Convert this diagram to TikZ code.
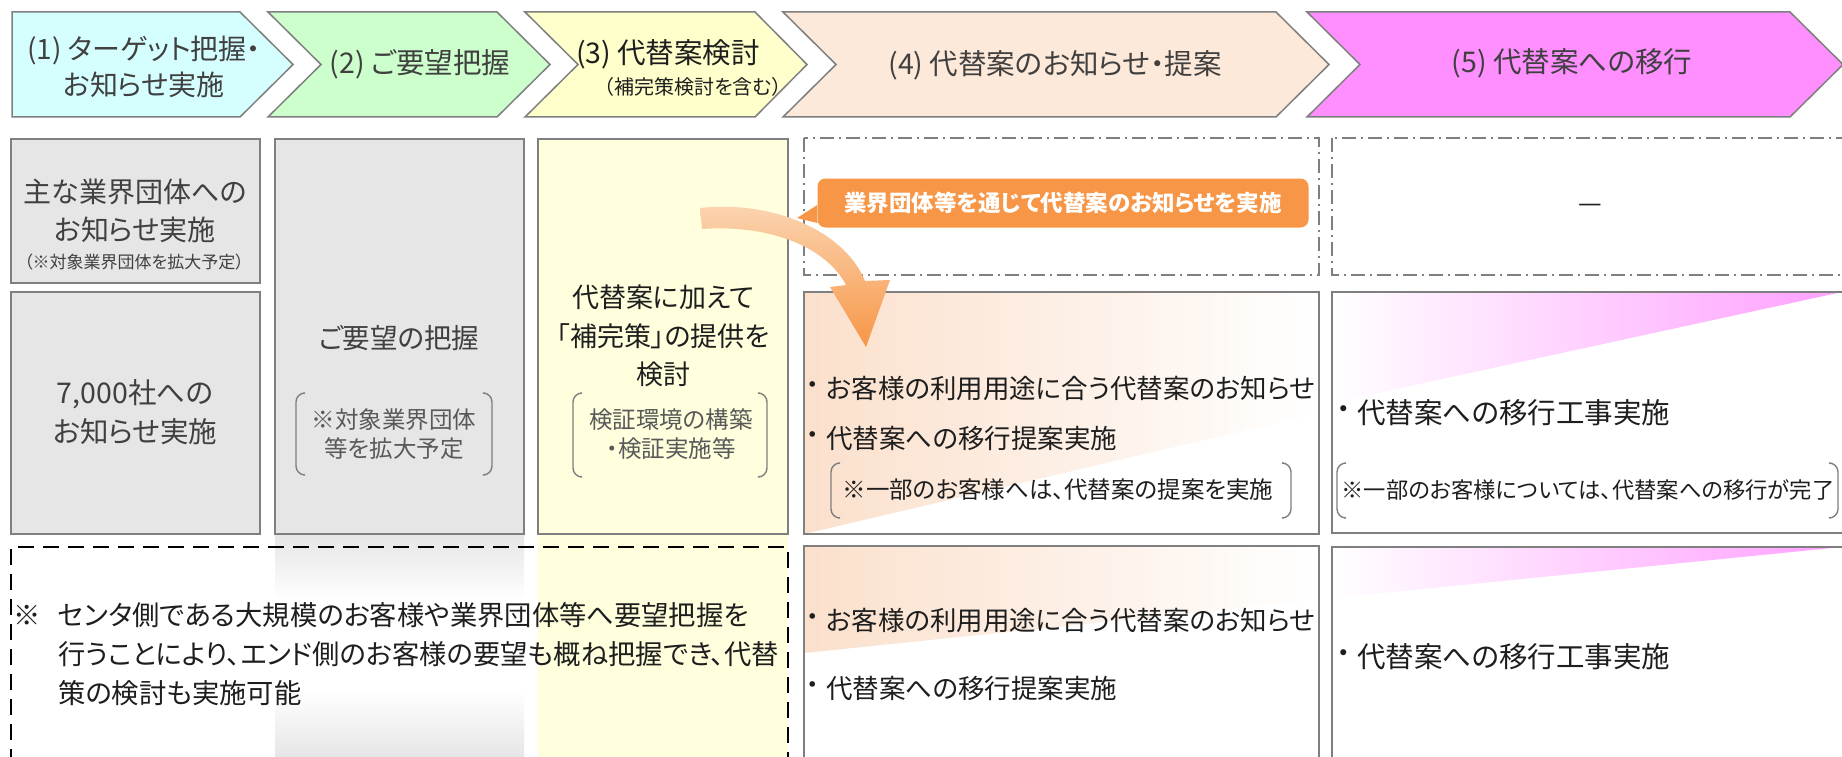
\documentclass[tikz,border=0pt]{standalone}
\usepackage{fontspec}
\setmainfont{Noto Sans CJK JP}[RawFeature=+palt]
\usetikzlibrary{calc}
\definecolor{bord}{HTML}{7F7F7F}
\definecolor{cA}{HTML}{D5FFFF}
\definecolor{cB}{HTML}{CCFFCC}
\definecolor{cC}{HTML}{FFFFCC}
\definecolor{cD}{HTML}{FDE9D9}
\definecolor{cE}{HTML}{FF8FFF}
\definecolor{gbox}{HTML}{E6E6E6}
\definecolor{ybox}{HTML}{FFFFDD}
\definecolor{orng}{HTML}{F79646}
\definecolor{arpale}{HTML}{FBD6B4}
\definecolor{peach}{HTML}{FBE0CC}
\definecolor{pinkg}{HTML}{FFA0FF}
\definecolor{txt}{HTML}{1E1E1E}
\definecolor{htxt}{HTML}{404040}
\definecolor{gtxt}{HTML}{404040}
\definecolor{ntxt}{HTML}{595959}
\newcommand\bul{\makebox[8pt]{・}}
\tikzset{
  chev/.style={draw=bord, line width=1.5pt},
  gbx/.style={draw=bord, line width=1.6pt, fill=gbox},
  ybx/.style={draw=bord, line width=1.6pt, fill=ybox},
  wbx/.style={draw=bord, line width=1.6pt},
  ddbx/.style={draw=bord, line width=1.5pt, dash pattern=on 14pt off 5pt on 2pt off 5pt},
  brk/.style={draw=bord, line width=1.4pt, rounded corners=9pt},
  htx/.style={inner sep=0pt, text=htxt, font=\fontsize{28.5}{36}\selectfont, align=center},
  gtx/.style={inner sep=0pt, text=gtxt, font=\fontsize{28}{38}\selectfont, align=center},
  ntx/.style={inner sep=0pt, text=ntxt, font=\fontsize{23.5}{29}\selectfont, align=center},
  btx/.style={inner sep=0pt, text=txt, font=\fontsize{26.5}{38}\selectfont},
  bbtx/.style={inner sep=0pt, text=txt, font=\fontsize{28.5}{38}\selectfont},
  smtx/.style={inner sep=0pt, text=txt, font=\fontsize{23.5}{28}\selectfont},
}
\begin{document}
\begin{tikzpicture}[x=1pt,y=-1pt]
\useasboundingbox (0,0) rectangle (1842,757);
\clip (0,0) rectangle (1842,757);
\fill[white] (0,0) rectangle (1842,757);

% header chevrons
\draw[chev, fill=cA] (12,12) -- (240,12) -- (293,64.5) -- (240,117) -- (12,117) -- cycle;
\draw[chev, fill=cB] (268,12) -- (497,12) -- (550,64.5) -- (497,117) -- (268,117) -- (321,64.5) -- cycle;
\draw[chev, fill=cC] (525,12) -- (755,12) -- (807,64.5) -- (755,117) -- (525,117) -- (578,64.5) -- cycle;
\draw[chev, fill=cD] (783,12) -- (1276,12) -- (1329,64.5) -- (1276,117) -- (783,117) -- (836,64.5) -- cycle;
\draw[chev, fill=cE] (1307,12) -- (1790,12) -- (1843,64.5) -- (1790,117) -- (1307,117) -- (1360,64.5) -- cycle;

\node[htx, font=\fontsize{28}{36}\selectfont] (h1) at (144,67) {(1) ターゲット把握・\\お知らせ実施};
\node[htx] (h2) at (420,64) {(2) ご要望把握};
\node[htx, text=txt] (h3) at (668,54) {(3) 代替案検討};
\node[inner sep=0pt, text=txt, font=\fontsize{20}{22}\selectfont] (h3s) at (693,87) {（補完策検討を含む）};
\node[htx] (h4) at (1055,65) {(4) 代替案のお知らせ・提案};
\node[htx] (h5) at (1572,63) {(5) 代替案への移行};

% column strips below boxes
\shade[top color=gbox, bottom color=white] (275,535) rectangle (524,600);
\shade[top color=white, bottom color=gbox] (275,690) rectangle (524,757);
\fill[ybox] (538,535) rectangle (788,757);

% column 1-3 boxes
\draw[gbx] (11,139) rectangle (260,283);
\draw[gbx] (11,292) rectangle (260,534);
\draw[gbx] (275,139) rectangle (524,534);
\draw[ybx] (538,139) rectangle (788,534);

% column 4-5 boxes
\draw[ddbx] (804,138) rectangle (1319,275);
\draw[ddbx] (1332,138) rectangle (1870,275);
\shade[left color=peach, right color=white] (804,292) -- (1319,292) -- (1319,413) -- (804,534) -- cycle;
\draw[wbx] (804,292) rectangle (1319,534);
\shade[left color=peach, right color=white] (804,546) -- (1319,546) -- (1319,600) -- (804,653) -- cycle;
\draw[wbx] (804,546) rectangle (1319,790);
\shade[left color=white, right color=pinkg] (1332,292) -- (1842,292) -- (1332,403) -- cycle;
\draw[wbx] (1332,292) rectangle (1870,533);
\shade[left color=white, right color=pinkg] (1332,547) -- (1842,547) -- (1332,598) -- cycle;
\draw[wbx] (1332,547) rectangle (1870,790);

% bottom-left dashed note box
\draw[black, line width=2.2pt, dash pattern=on 16pt off 9pt] (11,790) -- (11,547) -- (788,547) -- (788,790);

% brackets
\draw[brk] (303,393) -- (296,393) -- (296,475) -- (303,475);
\draw[brk] (485,393) -- (492,393) -- (492,475) -- (485,475);
\draw[brk] (580,393) -- (573,393) -- (573,477) -- (580,477);
\draw[brk] (760,393) -- (767,393) -- (767,477) -- (760,477);
\draw[brk] (838,463) -- (831,463) -- (831,518) -- (838,518);
\draw[brk] (1284,463) -- (1291,463) -- (1291,518) -- (1284,518);
\draw[brk] (1344,463) -- (1337,463) -- (1337,518) -- (1344,518);
\draw[brk] (1831,463) -- (1838,463) -- (1838,518) -- (1831,518);

% column texts
\node[gtx] (a1) at (135,211) {主な業界団体への\\お知らせ実施};
\node[gtx, font=\fontsize{17}{20}\selectfont] (a2) at (134,262) {（※対象業界団体を拡大予定）};
\node[gtx, font=\fontsize{28.5}{39}\selectfont] (b1) at (135,412) {7,000社への\\お知らせ実施};
\node[gtx, font=\fontsize{27.5}{38}\selectfont] (c2) at (399,338) {ご要望の把握};
\node[ntx] (c2n) at (394,434) {※対象業界団体\\等を拡大予定};
\node[gtx, text=txt, font=\fontsize{27}{38.5}\selectfont] (c3) at (663,336) {代替案に加えて\\「補完策」の提供を\\検討};
\node[ntx] (c3n) at (671,434) {検証環境の構築\\・検証実施等};

\node[btx] (d1b) at (813,388) {\bul};
\node[btx, anchor=west] (d1) at (826,388) {お客様の利用用途に合う代替案のお知らせ};
\node[btx] (d2b) at (813,438) {\bul};
\node[btx, anchor=west] (d2) at (826,438) {代替案への移行提案実施};
\node[smtx] (d3) at (1058,490) {※一部のお客様へは、代替案の提案を実施};
\node[btx] (d4b) at (813,620) {\bul};
\node[btx, anchor=west] (d4) at (826,620) {お客様の利用用途に合う代替案のお知らせ};
\node[btx] (d5b) at (813,688) {\bul};
\node[btx, anchor=west] (d5) at (826,688) {代替案への移行提案実施};

\node[btx] (dash) at (1590,208) {—};
\node[bbtx] (e1b) at (1344,413) {\bul};
\node[bbtx, anchor=west] (e1) at (1357,413) {代替案への移行工事実施};
\node[smtx, font=\fontsize{22.3}{28}\selectfont] (e2) at (1588,490) {※一部のお客様については、代替案への移行が完了};
\node[bbtx] (e3b) at (1344,657) {\bul};
\node[bbtx, anchor=west] (e3) at (1357,657) {代替案への移行工事実施};

% note text
\node[btx, font=\fontsize{27.3}{39}\selectfont] (fm) at (27,615) {※};
\node[btx, anchor=west, align=left, font=\fontsize{27.3}{39}\selectfont] (ft) at (58,654) {センタ側である大規模のお客様や業界団体等へ要望把握を\\行うことにより、エンド側のお客様の要望も概ね把握でき、代替\\策の検討も実施可能};

% orange label with pointer
\node[fill=orng, rounded corners=8pt, minimum width=491pt, minimum height=49pt, inner sep=0pt, text=white, font=\fontsize{22.5}{24}\selectfont\bfseries] (lbl) at (1063,203) {業界団体等を通じて代替案のお知らせを実施};
\coordinate (ptip) at (797,218);
\fill[orng] (lbl.west |- 0,205) -- (ptip) -- (lbl.west |- 0,223) -- cycle;

% curved orange arrow
\shade[top color=arpale, bottom color=orng] (700,208) .. controls (775,200) and (845,232) .. (865,281) -- (890,280) -- (866,347) -- (830,287) -- (846,285) .. controls (828,250) and (775,224) .. (702,229) -- cycle;
\end{tikzpicture}
\end{document}
